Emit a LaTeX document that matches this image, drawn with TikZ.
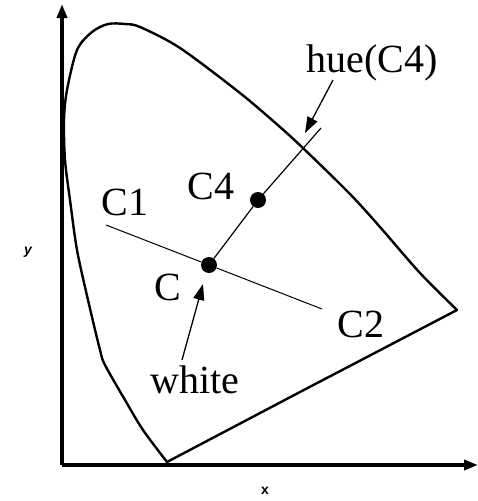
\documentclass[tikz,border=0pt]{standalone}
\usepackage{fontspec}
\setmainfont{Liberation Serif}
\setsansfont{Liberation Sans}
\usetikzlibrary{arrows.meta}
\tikzset{
  axis/.style={line width=3.5pt,-{Triangle[length=14pt,width=10pt]}},
  locus/.style={line width=2.4pt,line join=round},
  thinline/.style={line width=1pt},
  pointer/.style={line width=1.3pt,-{Triangle[length=16pt,width=11pt]}},
  dot/.style={circle,fill=black,inner sep=0pt,minimum size=16pt},
  lbl/.style={font=\fontsize{40}{40}\selectfont,inner sep=0pt,anchor=base},
  axlbl/.style={font=\sffamily\bfseries\fontsize{14}{14}\selectfont,inner sep=0pt}
}
\begin{document}
\begin{tikzpicture}[x=1pt,y=-1pt]
\useasboundingbox (0,0) rectangle (478,501);
% axes
\coordinate (O) at (62,465);
\coordinate (ytip) at (62,4);
\coordinate (xtip) at (478,465);
\draw[axis] (O) -- (ytip);
\draw[axis] (O) -- (xtip);
\node[axlbl,font=\sffamily\bfseries\itshape\fontsize{14}{14}\selectfont] (ylab) at (28,252) {y};
\node[axlbl] (xlab) at (265,491) {x};
% spectral locus
\draw[locus] plot[smooth,tension=0.5] coordinates {
 (167,462) (143,430) (125,400) (105,365) (100,350) (88,300) (77,250) (70,200) (65,160) (64,120) (67,90) (77,50) (92,32) (108,24) (125,24) (140,27) (180,48) (240,93) (280,127) (305,150) (350,194) (380,227) (420,273) (457,310)}
 -- (300,392) -- (167,462) -- cycle;
% points
\node[dot] (C) at (209,265) {};
\node[dot] (C4) at (258,200) {};
\coordinate (C1end) at (106,225);
\coordinate (C2end) at (322,309);
\coordinate (hueend) at (321,128);
\draw[thinline] (C1end) -- (C) -- (C2end);
\draw[thinline,line width=1.2pt] (C) -- (C4) -- (hueend);
% labels
\node[lbl] (lC1) at (125,215) {C1};
\node[lbl] (lC4) at (211,199) {C4};
\node[lbl] (lC) at (168,300) {C};
\node[lbl] (lC2) at (361,337) {C2};
\node[lbl] (lwhite) at (195,393) {white};
\node[lbl] (lhue) at (372,72) {hue(C4)};
% pointers
\coordinate (huefrom) at (333,80);
\coordinate (hueto) at (305,133);
\coordinate (whitefrom) at (182,360);
\coordinate (whiteto) at (203,284);
\draw[pointer] (huefrom) -- (hueto);
\draw[pointer] (whitefrom) -- (whiteto);
\end{tikzpicture}
\end{document}
